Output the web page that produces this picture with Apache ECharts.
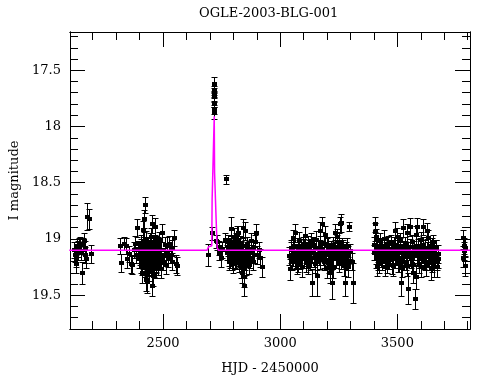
<!DOCTYPE html>
<html><head><meta charset="utf-8">
<script src="https://cdn.jsdelivr.net/npm/echarts@6/dist/echarts.min.js"></script>
<style>html,body{margin:0;padding:0;background:#fff}#c{width:490px;height:380px}</style>
</head><body><div id="c"></div>
<script>
const chartTitle = 'OGLE-2003-BLG-001';
const xName = 'HJD - 2450000';
const yName = 'I magnitude';
const xMajorTicks = [2500, 3000, 3500];
const xMinorTicks = [2200,2300,2400,2600,2700,2800,2900,3100,3200,3300,3400,3600,3700,3800];
const yMajorTicks = [17.5, 18, 18.5, 19, 19.5];
const yMinorTicks = [17.2,17.3,17.4,17.6,17.7,17.8,17.9,18.1,18.2,18.3,18.4,18.6,18.7,18.8,18.9,19.1,19.2,19.3,19.4,19.6,19.7];

// photometry: HJD-2450000, I mag, error
const hjd = [
 2122,2125,2127,2130,2134,2136,2140,2147,2152,2155,2159,2162,2166,2169,2173,2176,2183,2193,
 2316,2319,2335,2341,2348,2355,2362,2369,2376,2381,
 2386,2390,2394,2398,2401,2404,2407,2409,2412,2415,
 2417,2419,2421,2423,2424,2426,2428,2430,2431,2432,
 2434,2436,2438,2440,2442,2444,2447,2449,2451,2452,
 2453,2455,2457,2459,2462,2464,2466,2468,2469,2471,
 2473,2476,2478,2480,2483,2486,2490,2493,2497,2500,
 2504,2507,2511,2515,2518,2522,2526,2533,2537,2540,
 2547,2554,2560,
 2692,2709,2716.5,2717,2717.5,2718,2718.3,2718.6,2719,2719.3,
 2724,2730,2737,2740,2747,2751,2765,2768,2773,2778,
 2781,2784,2787,2790,2793,2796,2799,2801,2804,2806,
 2809,2811,2814,2816,2818,2820,2822,2825,2827,2829,
 2831,2833,2835,2837,2839,2841,2842,2844,2847,2849,
 2851,2854,2856,2859,2862,2865,2868,2871,2874,2878,
 2882,2886,2890,2894,2898,2903,2908,2915,2922,
 3038,3041,3044,3048,3052,3056,3060,3064,3067,3071,
 3074,3078,3082,3086,3090,3093,3097,3100,3104,3107,
 3111,3114,3117,3121,3124,3128,3131,3135,3139,3143,
 3146,3150,3153,3156,3160,3164,3168,3172,3175,3178,
 3182,3185,3189,3192,3196,3200,3203,3206,3209,3213,
 3216,3220,3223,3227,3231,3235,3238,3242,3246,3249,
 3253,3256,3259,3263,3267,3271,3274,3277,3281,3284,
 3288,3291,3295,3300,3305,3312,
 3400,3403,3405,3408,3410,3412,3415,3419,3423,3427,
 3431,3436,3440,3444,3448,3452,3456,3460,3464,3468,
 3472,3476,3480,3484,3488,3492,3497,3500,3504,3508,
 3512,3516,3519,3522,3526,3530,3534,3538,3542,3545,
 3549,3552,3554,3558,3561,3565,3568,3572,3575,3578,
 3581,3583,3587,3591,3595,3599,3603,3607,3611,3615,
 3619,3622,3625,3629,3632,3636,3640,3643,3646,3650,
 3653,3657,3660,3664,3668,3672,3675,
 3779,3781,3783,3785,3788,3790
];
const mag = [
 19.10,19.14,19.18,19.22,19.06,19.09,19.05,19.04,19.12,19.30,19.05,19.02,19.08,19.14,19.18,18.80,18.82,19.13,
 19.06,19.21,19.04,19.06,19.18,19.13,19.22,19.23,19.10,19.04,
 19.14,18.90,19.09,19.18,19.12,19.08,19.22,19.30,19.15,18.92,
 19.05,18.82,19.19,18.70,19.10,19.36,19.01,19.25,19.38,19.14,
 19.06,19.20,19.11,19.18,19.28,19.03,18.98,19.16,18.87,19.42,
 19.09,19.22,19.33,19.12,19.06,19.19,18.89,19.27,19.21,19.04,
 19.15,19.12,19.24,19.08,19.01,19.17,19.27,19.10,18.95,19.20,
 19.15,19.05,19.23,19.12,19.06,19.18,19.04,19.14,19.08,19.20,
 18.99,19.22,19.24,
 19.14,18.95,17.88,17.85,17.79,17.74,17.73,17.70,17.68,17.62,
 19.02,19.03,19.08,19.12,19.17,19.10,19.01,18.47,19.12,19.03,
 19.20,19.12,19.05,18.91,19.15,19.08,19.22,19.05,18.98,19.13,
 19.18,19.02,19.10,18.96,18.95,19.16,19.07,19.21,19.12,19.04,
 19.26,19.09,19.17,19.14,19.30,19.06,18.90,19.34,19.42,19.20,
 18.93,19.11,19.24,19.05,19.15,19.23,19.09,19.18,19.02,19.12,
 19.20,19.08,19.14,19.03,18.95,19.14,19.10,19.17,19.25,
 19.15,19.27,19.08,19.14,19.20,18.99,19.12,18.95,19.18,19.23,
 19.06,19.13,19.02,19.19,19.10,19.25,19.05,19.16,18.97,19.12,
 19.21,19.18,19.04,19.14,19.08,19.20,19.02,19.39,19.11,19.17,
 19.06,19.22,19.01,19.33,19.13,19.08,19.19,18.93,19.10,18.87,
 19.15,19.04,19.20,18.96,19.12,19.26,19.05,19.14,19.22,19.30,
 19.09,19.39,19.16,19.05,19.12,18.95,19.18,18.98,19.10,19.21,
 19.03,18.87,18.86,19.15,19.08,19.24,19.12,19.39,19.18,19.06,
 19.14,19.25,18.89,19.11,19.20,19.39,
 19.05,18.94,18.87,18.98,19.14,19.08,19.24,19.20,19.10,19.02,
 19.17,19.06,19.12,19.00,19.25,19.13,19.05,19.19,19.09,19.15,
 19.03,19.23,19.11,19.06,19.18,18.93,18.98,19.14,19.08,19.21,
 19.02,19.39,19.25,19.10,18.90,19.16,19.05,19.20,18.95,19.44,
 19.12,19.07,18.89,19.18,19.03,19.14,19.30,19.09,19.53,19.34,
 18.96,18.89,19.13,19.22,19.06,19.17,19.01,19.11,18.89,19.19,
 19.08,19.24,18.93,19.14,18.99,19.20,19.10,19.27,19.06,19.16,
 19.03,19.25,19.18,19.09,19.25,19.13,19.18,
 19.17,18.99,19.06,19.11,19.24,19.08
];
const magErr = [
 0.07,0.06,0.07,0.08,0.06,0.07,0.06,0.06,0.07,0.10,0.06,0.07,0.06,0.07,0.08,0.12,0.09,0.08,
 0.07,0.08,0.06,0.07,0.08,0.07,0.08,0.08,0.07,0.07,
 0.07,0.08,0.07,0.08,0.07,0.08,0.08,0.09,0.07,0.08,
 0.07,0.08,0.08,0.07,0.07,0.10,0.08,0.08,0.10,0.07,
 0.07,0.08,0.07,0.08,0.09,0.08,0.08,0.07,0.08,0.09,
 0.07,0.08,0.09,0.07,0.08,0.08,0.08,0.08,0.08,0.07,
 0.07,0.07,0.08,0.07,0.07,0.08,0.08,0.07,0.08,0.08,
 0.07,0.07,0.08,0.07,0.08,0.07,0.07,0.07,0.07,0.08,
 0.07,0.08,0.08,
 0.10,0.06,0.05,0.04,0.04,0.04,0.04,0.04,0.04,0.06,
 0.06,0.07,0.06,0.07,0.08,0.07,0.06,0.04,0.07,0.07,
 0.08,0.07,0.06,0.11,0.08,0.07,0.08,0.07,0.08,0.07,
 0.08,0.07,0.07,0.08,0.07,0.08,0.07,0.08,0.07,0.07,
 0.09,0.07,0.08,0.07,0.09,0.07,0.08,0.09,0.09,0.08,
 0.08,0.07,0.08,0.07,0.07,0.08,0.07,0.08,0.07,0.07,
 0.08,0.07,0.07,0.07,0.08,0.08,0.07,0.08,0.09,
 0.08,0.09,0.07,0.07,0.08,0.07,0.07,0.08,0.08,0.08,
 0.07,0.07,0.08,0.08,0.07,0.09,0.07,0.08,0.08,0.07,
 0.08,0.08,0.07,0.07,0.07,0.08,0.07,0.12,0.07,0.08,
 0.07,0.08,0.08,0.18,0.07,0.07,0.08,0.08,0.07,0.07,
 0.08,0.07,0.08,0.08,0.08,0.09,0.07,0.08,0.08,0.09,
 0.07,0.14,0.08,0.07,0.07,0.08,0.08,0.07,0.07,0.08,
 0.08,0.07,0.08,0.08,0.07,0.09,0.07,0.12,0.08,0.07,
 0.08,0.09,0.04,0.07,0.08,0.18,
 0.07,0.08,0.07,0.07,0.08,0.07,0.09,0.08,0.07,0.07,
 0.08,0.07,0.07,0.08,0.08,0.07,0.07,0.08,0.07,0.08,
 0.07,0.08,0.07,0.08,0.08,0.08,0.08,0.07,0.07,0.08,
 0.07,0.12,0.09,0.07,0.08,0.08,0.07,0.08,0.08,0.14,
 0.07,0.07,0.08,0.08,0.07,0.08,0.09,0.07,0.09,0.10,
 0.08,0.08,0.08,0.08,0.07,0.08,0.07,0.07,0.07,0.08,
 0.07,0.09,0.07,0.08,0.07,0.08,0.07,0.09,0.07,0.08,
 0.07,0.09,0.08,0.08,0.09,0.08,0.08,
 0.08,0.07,0.07,0.08,0.09,0.08
];

// additional points inside the dense parts of each season
const hjdCore = [
 2402,2405,2408,2411,2413,2416,2418,2420,2422,2425,
 2427,2429,2433,2435,2437,2439,2441,2443,2446,2448,
 2450,2454,2456,2458,2461,2463,2465,2467,2470,2472,
 2474,2477,2479,2482,2485,2488,
 2776,2780,2783,2786,2789,2792,2795,2798,2803,2808,
 2813,2817,2823,2826,2830,2836,2843,2846,2850,2857,
 3046,3054,3058,3062,3069,3076,3080,3084,3088,3095,
 3102,3109,3119,3126,3133,3141,3148,3158,3166,3170,
 3180,3187,3194,3198,3211,3218,3225,3233,3240,3244,
 3251,3261,3265,3269,3279,3286,
 3402,3407,3414,3417,3421,3425,3429,3434,3438,3442,
 3446,3450,3454,3458,3462,3466,3470,3474,3478,3482,
 3486,3490,3494,3502,3506,3510,3514,3524,3528,3532,
 3536,3540,3547,3556,3563,3570,3585,3589,3593,3597,
 3601,3605,3609,3613,3617,3627,3634,3638,3645,3648,
 3655,3662,3666,3670
];
const magCore = [
 19.16,19.04,19.12,19.24,19.07,19.19,19.13,19.02,19.26,19.15,
 19.09,19.21,19.05,19.12,19.24,19.08,19.17,19.13,19.22,19.06,
 19.19,19.14,19.05,19.20,19.25,19.10,19.16,19.03,19.13,19.22,
 19.09,19.18,19.05,19.15,19.10,19.20,
 19.08,19.16,19.06,19.18,19.10,19.04,19.20,19.12,19.15,19.07,
 19.19,19.11,19.14,19.06,19.17,19.22,19.12,19.26,19.15,19.10,
 19.10,19.16,19.06,19.19,19.13,19.21,19.08,19.14,19.18,19.12,
 19.07,19.16,19.23,19.11,19.17,19.05,19.13,19.20,19.15,19.04,
 19.09,19.18,19.14,19.06,19.12,19.20,19.26,19.08,19.15,19.03,
 19.12,19.19,19.06,19.14,19.10,19.20,
 19.12,19.18,19.06,19.13,19.22,19.15,19.08,19.20,19.14,19.07,
 19.17,19.10,19.22,19.12,19.04,19.19,19.14,19.09,19.16,19.24,
 19.11,19.05,19.15,19.21,19.12,19.06,19.17,19.13,19.20,19.09,
 19.15,19.24,19.10,19.16,19.22,19.12,19.15,19.07,19.18,19.12,
 19.25,19.14,19.05,19.13,19.20,19.10,19.16,19.06,19.14,19.21,
 19.12,19.15,19.08,19.20
];
const errCore = [
 0.07,0.08,0.07,0.08,0.07,0.08,0.07,0.08,0.08,0.07,
 0.07,0.08,0.07,0.07,0.08,0.07,0.08,0.07,0.08,0.07,
 0.08,0.07,0.07,0.08,0.09,0.07,0.08,0.07,0.07,0.08,
 0.07,0.08,0.07,0.07,0.07,0.08,
 0.07,0.08,0.07,0.08,0.07,0.07,0.08,0.07,0.08,0.07,
 0.08,0.07,0.07,0.07,0.08,0.08,0.07,0.09,0.08,0.07,
 0.07,0.08,0.07,0.08,0.07,0.08,0.07,0.07,0.08,0.07,
 0.07,0.08,0.08,0.07,0.08,0.07,0.07,0.08,0.08,0.07,
 0.07,0.08,0.07,0.07,0.07,0.08,0.09,0.07,0.08,0.07,
 0.07,0.08,0.07,0.07,0.07,0.08,
 0.07,0.08,0.07,0.07,0.08,0.08,0.07,0.08,0.07,0.07,
 0.08,0.07,0.08,0.07,0.07,0.08,0.07,0.07,0.08,0.09,
 0.07,0.07,0.08,0.08,0.07,0.07,0.08,0.07,0.08,0.07,
 0.07,0.09,0.07,0.08,0.08,0.07,0.08,0.07,0.08,0.07,
 0.09,0.07,0.07,0.07,0.08,0.07,0.08,0.07,0.07,0.08,
 0.07,0.08,0.07,0.08
];

// microlensing model curve
const modelHjd = [2100, 2688, 2694, 2708, 2709.5, 2717.5, 2718.5, 2720, 2725, 2726, 2730, 2731, 2737, 3810];
const modelMag = [19.10, 19.10, 19.07, 19.06, 18.65, 18.64, 17.91, 18.41, 18.42, 18.79, 18.80, 19.08, 19.10, 19.10];

const X_MIN = 2103, X_MAX = 3810, Y_MIN = 17.16, Y_MAX = 19.80;
const FONT = 'DejaVu Serif';

const points = hjd.map((h, i) => [h, mag[i], magErr[i]])
  .concat(hjdCore.map((h, i) => [h, magCore[i], errCore[i]]));
const model = modelHjd.map((h, i) => [h, modelMag[i]]);

function xAxis(pos, ticks, len, labels) {
  return {
    type: 'value', position: pos, min: X_MIN, max: X_MAX, gridIndex: 0,
    axisLine: {show: true, onZero: false, lineStyle: {color: '#000', width: 1}},
    axisTick: {show: true, inside: true, length: len, customValues: ticks, lineStyle: {color: '#000', width: 1}},
    axisLabel: labels ? {show: true, customValues: ticks, margin: 8, color: '#000', fontFamily: FONT, fontSize: 13,
      formatter: v => String(v)} : {show: false},
    splitLine: {show: false},
    name: labels ? xName : '', nameLocation: 'middle', nameGap: 33,
    nameTextStyle: {color: '#000', fontFamily: FONT, fontSize: 13}
  };
}
function yAxis(pos, ticks, len, labels) {
  return {
    type: 'value', position: pos, min: Y_MIN, max: Y_MAX, inverse: true, gridIndex: 0,
    axisLine: {show: true, onZero: false, lineStyle: {color: '#000', width: 1}},
    axisTick: {show: true, inside: true, length: len, customValues: ticks, lineStyle: {color: '#000', width: 1}},
    axisLabel: labels ? {show: true, customValues: ticks, margin: 9, color: '#000', fontFamily: FONT, fontSize: 13,
      formatter: v => String(v)} : {show: false},
    splitLine: {show: false},
    name: labels ? yName : '', nameLocation: 'middle', nameGap: 44, nameRotate: 90,
    nameTextStyle: {color: '#000', fontFamily: FONT, fontSize: 13}
  };
}

const chart = echarts.init(document.getElementById('c'), null, {renderer: 'canvas'});
chart.setOption({
  animation: false,
  backgroundColor: '#fff',
  title: {text: chartTitle, left: 194, top: 2, textStyle: {color: '#000', fontFamily: FONT, fontSize: 13, fontWeight: 'normal'}},
  grid: {left: 70, right: 20, top: 32, bottom: 48, containLabel: false},
  xAxis: [
    xAxis('bottom', xMajorTicks, 15, true),
    xAxis('bottom', xMinorTicks, 8, false),
    xAxis('top', xMajorTicks, 15, false),
    xAxis('top', xMinorTicks, 8, false)
  ],
  yAxis: [
    yAxis('left', yMajorTicks, 15, true),
    yAxis('left', yMinorTicks, 8, false),
    yAxis('right', yMajorTicks, 15, false),
    yAxis('right', yMinorTicks, 8, false)
  ],
  series: [
    {
      type: 'custom', xAxisIndex: 0, yAxisIndex: 0, data: points, clip: true, z: 2,
      encode: {x: 0, y: 1},
      renderItem: function (params, api) {
        const h = api.value(0), m = api.value(1), e = api.value(2);
        const c = api.coord([h, m]);
        const t = api.coord([h, m - e]);
        const b = api.coord([h, m + e]);
        const x = Math.round(c[0]) + 0.5;
        const yt = Math.round(t[1]) + 0.5, yb = Math.round(b[1]) + 0.5;
        const st = {stroke: '#000', lineWidth: 1};
        return {type: 'group', children: [
          {type: 'line', shape: {x1: x, y1: yt, x2: x, y2: yb}, style: st},
          {type: 'line', shape: {x1: x - 3, y1: yt, x2: x + 3, y2: yt}, style: st},
          {type: 'line', shape: {x1: x - 3, y1: yb, x2: x + 3, y2: yb}, style: st},
          {type: 'rect', shape: {x: x - 2.5, y: Math.round(c[1]) - 2, width: 5, height: 4}, style: {fill: '#000'}}
        ]};
      }
    },
    {
      type: 'line', xAxisIndex: 0, yAxisIndex: 0, data: model, z: 3,
      showSymbol: false, symbol: 'none', clip: true,
      lineStyle: {color: '#ff00ff', width: 1.5}
    }
  ]
});
</script>
</body></html>
